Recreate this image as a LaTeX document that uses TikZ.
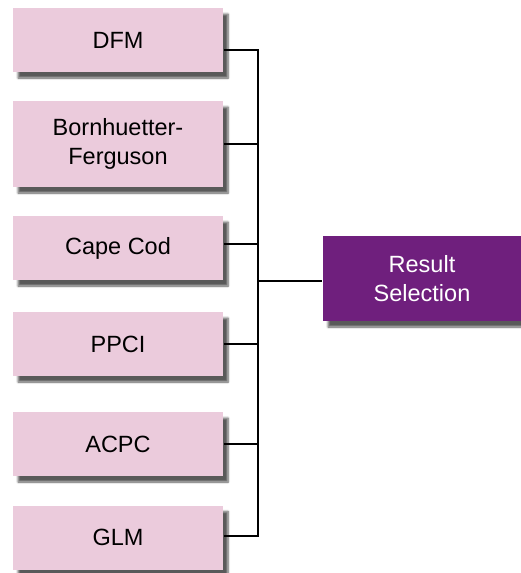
\documentclass[tikz,border=0pt]{standalone}
\usepackage{fontspec}
\setmainfont{Liberation Sans}
\usetikzlibrary{calc}
\usetikzlibrary{shadows.blur}
\definecolor{boxpink}{RGB}{235,203,220}
\definecolor{selpurple}{RGB}{111,31,125}
\tikzset{every picture/.style={line width=1.5pt}}
\tikzset{
  methodbox/.style={fill=boxpink, minimum width=210pt, minimum height=64pt, inner sep=0pt, align=center,
    font=\fontsize{23.5}{29.5}\selectfont,
    blur shadow={shadow xshift=5pt, shadow yshift=-6pt, shadow blur steps=6, shadow opacity=65}},
  resultbox/.style={methodbox, fill=selpurple, text=white, minimum width=198pt, minimum height=85pt},
}

\begin{document}
\begin{tikzpicture}[x=1pt,y=1pt,yscale=-1]
\useasboundingbox (0,0) rectangle (521,573);

% method boxes
\node [methodbox] (dfm) at (118,40) {DFM};
\node [methodbox, minimum height=86pt] (bf) at (118,144) {Bornhuetter-\\Ferguson};
\node [methodbox] (cc) at (118,248) {Cape Cod};
\node [methodbox] (ppci) at (118,344) {PPCI};
\node [methodbox] (acpc) at (118,444) {ACPC};
\node [methodbox] (glm) at (118,537.5) {GLM};
% selection box
\node [resultbox] (res) at (422,278.5) {Result\\Selection};

% joint on the trunk line
\coordinate (trunk) at (258,281);

%Straight Lines
\draw ($(dfm.east)+(0,10)$) -| (trunk);
\draw (bf.east) -| (trunk);
\draw ($(cc.east)+(0,-4)$) -| (trunk);
\draw (ppci.east) -| (trunk);
\draw (acpc.east) -| (trunk);
\draw ($(glm.east)+(0,-1.5)$) -| (trunk);
%Straight Lines
\draw (trunk) -- ($(res.west)+(0,2.5)$);

\end{tikzpicture}
\end{document}
